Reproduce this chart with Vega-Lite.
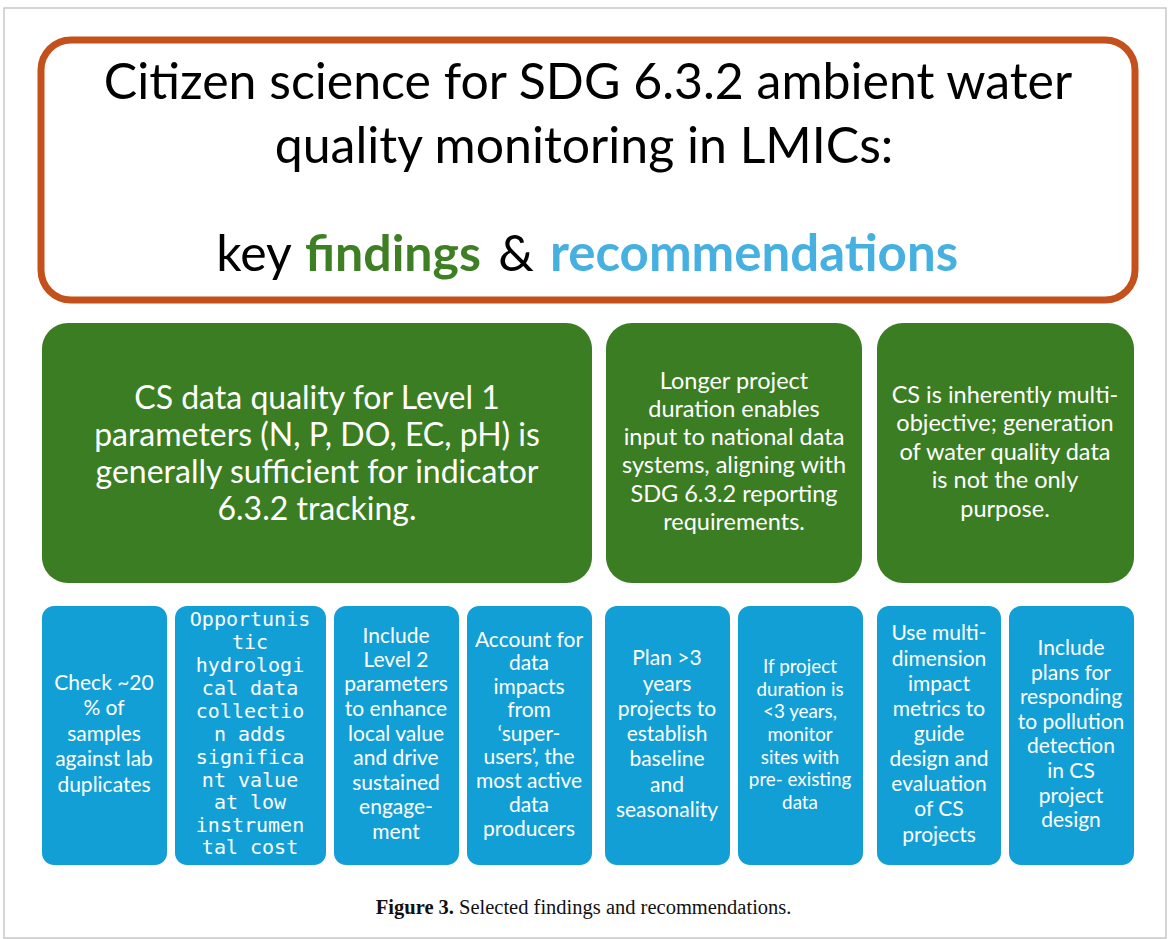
{
  "$schema": "https://vega.github.io/schema/vega-lite/v6.json",
  "width": 1171,
  "height": 939,
  "padding": 0,
  "autosize": {"type": "fit", "contains": "padding"},
  "background": "#ffffff",
  "config": {"view": {"stroke": null}},
  "datasets": {
    "boxes": [
      {"kind": "frame", "x1": 4, "x2": 1166, "y1": 8, "y2": 938},
      {"kind": "header", "x1": 41, "x2": 1135, "y1": 40, "y2": 300},
      {"kind": "finding", "x1": 42, "x2": 592, "y1": 323, "y2": 583},
      {"kind": "finding", "x1": 606, "x2": 862, "y1": 323, "y2": 583},
      {"kind": "finding", "x1": 877, "x2": 1134, "y1": 323, "y2": 583},
      {"kind": "rec", "x1": 42, "x2": 167, "y1": 606, "y2": 865},
      {"kind": "rec", "x1": 175, "x2": 326, "y1": 606, "y2": 865},
      {"kind": "rec", "x1": 334, "x2": 459, "y1": 606, "y2": 865},
      {"kind": "rec", "x1": 467, "x2": 592, "y1": 606, "y2": 865},
      {"kind": "rec", "x1": 605, "x2": 730, "y1": 606, "y2": 865},
      {"kind": "rec", "x1": 738, "x2": 863, "y1": 606, "y2": 865},
      {"kind": "rec", "x1": 877, "x2": 1001, "y1": 606, "y2": 865},
      {"kind": "rec", "x1": 1009, "x2": 1134, "y1": 606, "y2": 865}
    ],
    "labels": [
      {"g": "title", "x": 588, "y": 84, "t": "Citizen science for SDG 6.3.2 ambient water"},
      {"g": "title", "x": 584, "y": 148, "t": "quality monitoring in LMICs:"},
      {"g": "title", "x": 254, "y": 256, "t": "key"},
      {"g": "titleG", "x": 393, "y": 256, "t": "findings"},
      {"g": "title", "x": 516, "y": 256, "t": "&"},
      {"g": "titleB", "x": 754, "y": 256, "t": "recommendations"},

      {"g": "big", "x": 317, "y": 399, "t": "CS data quality for Level 1"},
      {"g": "big", "x": 317, "y": 436, "t": "parameters (N, P, DO, EC, pH) is"},
      {"g": "big", "x": 317, "y": 473, "t": "generally sufficient for indicator"},
      {"g": "big", "x": 317, "y": 510, "t": "6.3.2 tracking."},

      {"g": "mid", "x": 734, "y": 382, "t": "Longer project"},
      {"g": "mid", "x": 734, "y": 410, "t": "duration enables"},
      {"g": "mid", "x": 734, "y": 438, "t": "input to national data"},
      {"g": "mid", "x": 734, "y": 466, "t": "systems, aligning with"},
      {"g": "mid", "x": 734, "y": 495, "t": "SDG 6.3.2 reporting"},
      {"g": "mid", "x": 734, "y": 523, "t": "requirements."},

      {"g": "mid", "x": 1005, "y": 396, "t": "CS is inherently multi-"},
      {"g": "mid", "x": 1005, "y": 424, "t": "objective; generation"},
      {"g": "mid", "x": 1005, "y": 453, "t": "of water quality data"},
      {"g": "mid", "x": 1005, "y": 481, "t": "is not the only"},
      {"g": "mid", "x": 1005, "y": 510, "t": "purpose."},

      {"g": "rec", "x": 104, "y": 684, "t": "Check ~20"},
      {"g": "rec", "x": 104, "y": 709, "t": "% of"},
      {"g": "rec", "x": 104, "y": 735, "t": "samples"},
      {"g": "rec", "x": 104, "y": 760, "t": "against lab"},
      {"g": "rec", "x": 104, "y": 786, "t": "duplicates"},

      {"g": "mono", "x": 250, "y": 620, "t": "Opportunis"},
      {"g": "mono", "x": 250, "y": 643, "t": "tic"},
      {"g": "mono", "x": 250, "y": 666, "t": "hydrologi"},
      {"g": "mono", "x": 250, "y": 689, "t": "cal data"},
      {"g": "mono", "x": 250, "y": 712, "t": "collectio"},
      {"g": "mono", "x": 250, "y": 735, "t": "n adds"},
      {"g": "mono", "x": 250, "y": 758, "t": "significa"},
      {"g": "mono", "x": 250, "y": 781, "t": "nt value"},
      {"g": "mono", "x": 250, "y": 803, "t": "at low"},
      {"g": "mono", "x": 250, "y": 826, "t": "instrumen"},
      {"g": "mono", "x": 250, "y": 848, "t": "tal cost"},

      {"g": "rec", "x": 396, "y": 637, "t": "Include"},
      {"g": "rec", "x": 396, "y": 661, "t": "Level 2"},
      {"g": "rec", "x": 396, "y": 685, "t": "parameters"},
      {"g": "rec", "x": 396, "y": 710, "t": "to enhance"},
      {"g": "rec", "x": 396, "y": 735, "t": "local value"},
      {"g": "rec", "x": 396, "y": 759, "t": "and drive"},
      {"g": "rec", "x": 396, "y": 784, "t": "sustained"},
      {"g": "rec", "x": 396, "y": 808, "t": "engage-"},
      {"g": "rec", "x": 396, "y": 833, "t": "ment"},

      {"g": "rec", "x": 529, "y": 641, "t": "Account for"},
      {"g": "rec", "x": 529, "y": 664, "t": "data"},
      {"g": "rec", "x": 529, "y": 688, "t": "impacts"},
      {"g": "rec", "x": 529, "y": 711, "t": "from"},
      {"g": "rec", "x": 529, "y": 735, "t": "‘super-"},
      {"g": "rec", "x": 529, "y": 758, "t": "users’, the"},
      {"g": "rec", "x": 529, "y": 782, "t": "most active"},
      {"g": "rec", "x": 529, "y": 806, "t": "data"},
      {"g": "rec", "x": 529, "y": 830, "t": "producers"},

      {"g": "rec", "x": 667, "y": 659, "t": "Plan >3"},
      {"g": "rec", "x": 667, "y": 685, "t": "years"},
      {"g": "rec", "x": 667, "y": 710, "t": "projects to"},
      {"g": "rec", "x": 667, "y": 735, "t": "establish"},
      {"g": "rec", "x": 667, "y": 760, "t": "baseline"},
      {"g": "rec", "x": 667, "y": 786, "t": "and"},
      {"g": "rec", "x": 667, "y": 811, "t": "seasonality"},

      {"g": "small", "x": 800, "y": 667, "t": "If project"},
      {"g": "small", "x": 800, "y": 690, "t": "duration is"},
      {"g": "small", "x": 800, "y": 712, "t": "<3 years,"},
      {"g": "small", "x": 800, "y": 735, "t": "monitor"},
      {"g": "small", "x": 800, "y": 758, "t": "sites with"},
      {"g": "small", "x": 800, "y": 780, "t": "pre- existing"},
      {"g": "small", "x": 800, "y": 803, "t": "data"},

      {"g": "rec", "x": 939, "y": 634, "t": "Use multi-"},
      {"g": "rec", "x": 939, "y": 660, "t": "dimension"},
      {"g": "rec", "x": 939, "y": 685, "t": "impact"},
      {"g": "rec", "x": 939, "y": 710, "t": "metrics to"},
      {"g": "rec", "x": 939, "y": 735, "t": "guide"},
      {"g": "rec", "x": 939, "y": 760, "t": "design and"},
      {"g": "rec", "x": 939, "y": 785, "t": "evaluation"},
      {"g": "rec", "x": 939, "y": 810, "t": "of CS"},
      {"g": "rec", "x": 939, "y": 836, "t": "projects"},

      {"g": "rec", "x": 1071, "y": 649, "t": "Include"},
      {"g": "rec", "x": 1071, "y": 674, "t": "plans for"},
      {"g": "rec", "x": 1071, "y": 698, "t": "responding"},
      {"g": "rec", "x": 1071, "y": 723, "t": "to pollution"},
      {"g": "rec", "x": 1071, "y": 747, "t": "detection"},
      {"g": "rec", "x": 1071, "y": 772, "t": "in CS"},
      {"g": "rec", "x": 1071, "y": 797, "t": "project"},
      {"g": "rec", "x": 1071, "y": 821, "t": "design"},

      {"g": "capB", "x": 454, "y": 908, "t": "Figure 3."},
      {"g": "capN", "x": 459, "y": 908, "t": "Selected findings and recommendations."}
    ]
  },
  "layer": [
    {
      "data": {"name": "boxes"},
      "transform": [{"filter": "datum.kind === 'frame'"}],
      "mark": {"type": "rect", "fill": null, "stroke": "#c8c8c8", "strokeWidth": 1.5},
      "encoding": {
        "x": {"field": "x1", "type": "quantitative", "scale": {"domain": [0, 1171], "nice": false, "zero": false}, "axis": null},
        "x2": {"field": "x2"},
        "y": {"field": "y1", "type": "quantitative", "scale": {"domain": [939, 0], "nice": false, "zero": false}, "axis": null},
        "y2": {"field": "y2"}
      }
    },
    {
      "data": {"name": "boxes"},
      "transform": [{"filter": "datum.kind === 'header'"}],
      "mark": {"type": "rect", "fill": "#ffffff", "stroke": "#c4501b", "strokeWidth": 7, "cornerRadius": 30},
      "encoding": {
        "x": {"field": "x1", "type": "quantitative"},
        "x2": {"field": "x2"},
        "y": {"field": "y1", "type": "quantitative"},
        "y2": {"field": "y2"}
      }
    },
    {
      "data": {"name": "boxes"},
      "transform": [{"filter": "datum.kind === 'finding'"}],
      "mark": {"type": "rect", "cornerRadius": 26},
      "encoding": {
        "x": {"field": "x1", "type": "quantitative"},
        "x2": {"field": "x2"},
        "y": {"field": "y1", "type": "quantitative"},
        "y2": {"field": "y2"},
        "color": {"field": "kind", "type": "nominal", "scale": {"domain": ["finding", "rec"], "range": ["#3b7d23", "#129fd6"]}, "legend": null}
      }
    },
    {
      "data": {"name": "boxes"},
      "transform": [{"filter": "datum.kind === 'rec'"}],
      "mark": {"type": "rect", "cornerRadius": 12},
      "encoding": {
        "x": {"field": "x1", "type": "quantitative"},
        "x2": {"field": "x2"},
        "y": {"field": "y1", "type": "quantitative"},
        "y2": {"field": "y2"},
        "color": {"field": "kind", "type": "nominal", "scale": {"domain": ["finding", "rec"], "range": ["#3b7d23", "#129fd6"]}, "legend": null}
      }
    },
    {
      "data": {"name": "labels"},
      "transform": [{"filter": "datum.g === 'title'"}],
      "mark": {"type": "text", "font": "Lato", "fontSize": 50, "color": "#000000", "align": "center", "baseline": "middle"},
      "encoding": {"x": {"field": "x", "type": "quantitative"}, "y": {"field": "y", "type": "quantitative"}, "text": {"field": "t"}}
    },
    {
      "data": {"name": "labels"},
      "transform": [{"filter": "datum.g === 'titleG'"}],
      "mark": {"type": "text", "font": "Lato", "fontSize": 50, "fontWeight": "bold", "color": "#3e7f24", "align": "center", "baseline": "middle"},
      "encoding": {"x": {"field": "x", "type": "quantitative"}, "y": {"field": "y", "type": "quantitative"}, "text": {"field": "t"}}
    },
    {
      "data": {"name": "labels"},
      "transform": [{"filter": "datum.g === 'titleB'"}],
      "mark": {"type": "text", "font": "Lato", "fontSize": 51, "fontWeight": "bold", "color": "#46b1e1", "align": "center", "baseline": "middle"},
      "encoding": {"x": {"field": "x", "type": "quantitative"}, "y": {"field": "y", "type": "quantitative"}, "text": {"field": "t"}}
    },
    {
      "data": {"name": "labels"},
      "transform": [{"filter": "datum.g === 'big'"}],
      "mark": {"type": "text", "font": "Lato", "fontSize": 32, "color": "#ffffff", "align": "center", "baseline": "middle"},
      "encoding": {"x": {"field": "x", "type": "quantitative"}, "y": {"field": "y", "type": "quantitative"}, "text": {"field": "t"}}
    },
    {
      "data": {"name": "labels"},
      "transform": [{"filter": "datum.g === 'mid'"}],
      "mark": {"type": "text", "font": "Lato", "fontSize": 23.5, "color": "#ffffff", "align": "center", "baseline": "middle"},
      "encoding": {"x": {"field": "x", "type": "quantitative"}, "y": {"field": "y", "type": "quantitative"}, "text": {"field": "t"}}
    },
    {
      "data": {"name": "labels"},
      "transform": [{"filter": "datum.g === 'rec'"}],
      "mark": {"type": "text", "font": "Lato", "fontSize": 21, "color": "#ffffff", "align": "center", "baseline": "middle"},
      "encoding": {"x": {"field": "x", "type": "quantitative"}, "y": {"field": "y", "type": "quantitative"}, "text": {"field": "t"}}
    },
    {
      "data": {"name": "labels"},
      "transform": [{"filter": "datum.g === 'small'"}],
      "mark": {"type": "text", "font": "Lato", "fontSize": 18.8, "color": "#ffffff", "align": "center", "baseline": "middle"},
      "encoding": {"x": {"field": "x", "type": "quantitative"}, "y": {"field": "y", "type": "quantitative"}, "text": {"field": "t"}}
    },
    {
      "data": {"name": "labels"},
      "transform": [{"filter": "datum.g === 'mono'"}],
      "mark": {"type": "text", "font": "DejaVu Sans Mono", "fontSize": 20, "color": "#ffffff", "align": "center", "baseline": "middle"},
      "encoding": {"x": {"field": "x", "type": "quantitative"}, "y": {"field": "y", "type": "quantitative"}, "text": {"field": "t"}}
    },
    {
      "data": {"name": "labels"},
      "transform": [{"filter": "datum.g === 'capB'"}],
      "mark": {"type": "text", "font": "Liberation Serif", "fontSize": 20.5, "fontWeight": "bold", "color": "#111111", "align": "right", "baseline": "middle"},
      "encoding": {"x": {"field": "x", "type": "quantitative"}, "y": {"field": "y", "type": "quantitative"}, "text": {"field": "t"}}
    },
    {
      "data": {"name": "labels"},
      "transform": [{"filter": "datum.g === 'capN'"}],
      "mark": {"type": "text", "font": "Liberation Serif", "fontSize": 20.5, "color": "#111111", "align": "left", "baseline": "middle"},
      "encoding": {"x": {"field": "x", "type": "quantitative"}, "y": {"field": "y", "type": "quantitative"}, "text": {"field": "t"}}
    }
  ]
}
